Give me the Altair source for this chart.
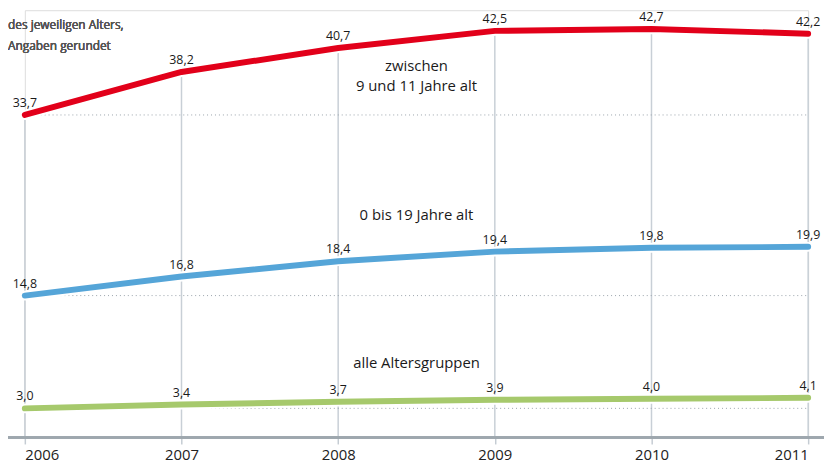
import altair as alt
import pandas as pd

years = [2006, 2007, 2008, 2009, 2010, 2011]
series_names = ["zwischen 9 und 11 Jahre alt", "0 bis 19 Jahre alt", "alle Altersgruppen"]
red_values = [33.7, 38.2, 40.7, 42.5, 42.7, 42.2]
blue_values = [14.8, 16.8, 18.4, 19.4, 19.8, 19.9]
green_values = [3.0, 3.4, 3.7, 3.9, 4.0, 4.1]
colors = ["#e2001a", "#55a5d8", "#a6c96c"]

annot_text = ["zwischen", "9 und 11 Jahre alt", "0 bis 19 Jahre alt", "alle Altersgruppen"]
annot_x = [2008.5, 2008.5, 2008.5, 2008.5]
annot_y = [38.8, 36.7, 23.2, 7.7]

subtitle_lines = ["des jeweiligen Alters,", "Angaben gerundet"]

FONT = "Open Sans"
W, H = 791, 431

rows = []
for name, vals in zip(series_names, [red_values, blue_values, green_values]):
    for y, v in zip(years, vals):
        rows.append({"series": name, "year": y, "value": v,
                     "label": f"{v:.1f}".replace(".", ",")})
df = pd.DataFrame(rows)

vgrid = pd.DataFrame({"year": years, "top": red_values, "bottom": [0] * len(years)})
hgrid = pd.DataFrame({"y": [red_values[0], blue_values[0], green_values[0]],
                      "x1": [years[0]] * 3, "x2": [years[-1]] * 3})
annot = pd.DataFrame({"text": annot_text, "x": annot_x, "y": annot_y})

xs = alt.Scale(domain=[years[0], years[-1]], nice=False, zero=False)
ys = alt.Scale(domain=[0, 44.66], nice=False)
col = alt.Color("series:N", scale=alt.Scale(domain=series_names, range=colors), legend=None)

x_axis = alt.Axis(values=years, format="d", labelFontSize=15, labelFont=FONT,
                  labelColor="#222222", tickColor="#c5ccd3", tickSize=7, tickWidth=1.5,
                  domain=False, grid=False, title=None, labelPadding=4)

vrules = alt.Chart(vgrid).mark_rule(color="#c8cfd6", strokeWidth=1.5).encode(
    x=alt.X("year:Q", scale=xs, axis=x_axis),
    y=alt.Y("top:Q", scale=ys, axis=None),
    y2="bottom:Q",
)

hrules = alt.Chart(hgrid).mark_rule(color="#9aa3ab", strokeWidth=1, strokeDash=[1, 3]).encode(
    x=alt.X("x1:Q", scale=xs), x2="x2:Q", y=alt.Y("y:Q", scale=ys),
)

baseline = alt.Chart(hgrid).mark_rule(color="#9ea7ae", strokeWidth=2.5).encode(
    x=alt.value(-18), x2=alt.value(W + 16), y=alt.value(H + 0.5)
)

halo = alt.Chart(df).mark_line(color="white", strokeWidth=10, strokeCap="round").encode(
    x=alt.X("year:Q", scale=xs), y=alt.Y("value:Q", scale=ys), detail="series:N"
)

lines = alt.Chart(df).mark_line(strokeWidth=6, strokeCap="round", strokeJoin="round").encode(
    x=alt.X("year:Q", scale=xs), y=alt.Y("value:Q", scale=ys), color=col
)

labels = alt.Chart(df).mark_text(dy=-12, fontSize=12.5, font=FONT, color="#1a1a1a").encode(
    x=alt.X("year:Q", scale=xs), y=alt.Y("value:Q", scale=ys), text="label:N"
)

annots = alt.Chart(annot).mark_text(fontSize=15, font=FONT, color="#1a1a1a").encode(
    x=alt.X("x:Q", scale=xs), y=alt.Y("y:Q", scale=ys), text="text:N"
)

sub1 = alt.Chart(annot).mark_text(align="left", fontSize=12, font=FONT, fontWeight="normal",
                                  color="#555555").encode(
    x=alt.value(-17), y=alt.value(15), text=alt.value(subtitle_lines[0])
)
sub2 = alt.Chart(annot).mark_text(align="left", fontSize=12, font=FONT, fontWeight="normal",
                                  color="#555555").encode(
    x=alt.value(-17), y=alt.value(36), text=alt.value(subtitle_lines[1])
)

chart = alt.layer(vrules, hrules, baseline, halo, lines, labels, annots, sub1, sub2).properties(
    width=W, height=H,
    padding={"left": 17, "right": 16, "top": 0, "bottom": 25},
    autosize=alt.AutoSizeParams(type="none"),
).configure_view(stroke=None).configure(background="white")

chart.save("out.html", embed_options={"renderer": "svg", "actions": False})
